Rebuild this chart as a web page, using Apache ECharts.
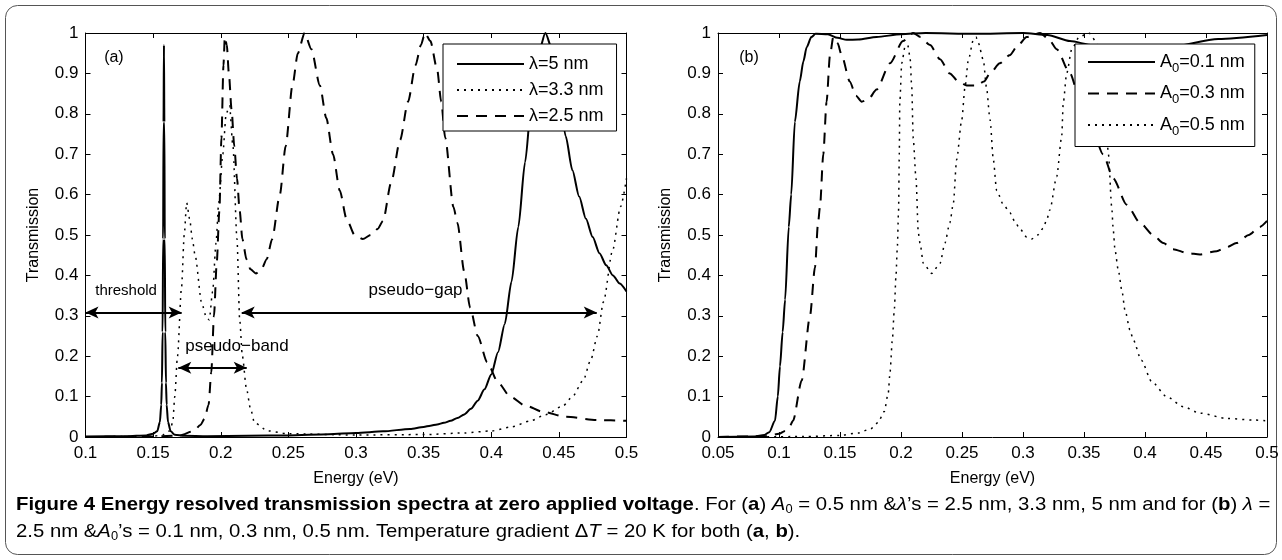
<!DOCTYPE html>
<html>
<head>
<meta charset="utf-8">
<script src="https://cdn.jsdelivr.net/npm/echarts@6/dist/echarts.min.js"></script>
<style>html,body{margin:0;padding:0;background:#fff}#c{width:1282px;height:560px}</style>
</head>
<body>
<div id="c"></div>
<script>
// ---------- tick labels ----------
const xTicksA = ['0.1','0.15','0.2','0.25','0.3','0.35','0.4','0.45','0.5'];
const xTicksB = ['0.05','0.1','0.15','0.2','0.25','0.3','0.35','0.4','0.45','0.5'];
const yTicks = ['0','0.1','0.2','0.3','0.4','0.5','0.6','0.7','0.8','0.9','1'];

// ---------- panel (a): lambda series ----------
const a5_E = [0.10,0.13,0.145,0.150,0.153,0.155,0.156,0.1565,0.157,0.1574,0.1577,0.158,0.1583,0.1586,0.159,0.1595,0.160,0.161,0.163,0.166,0.173,0.19,0.22,0.25,0.28,0.30,0.32,0.34,0.35,0.355,0.36,0.365,0.37,0.375,0.38,0.385,0.39,0.395,0.40,0.405,0.41,0.415,0.42,0.425,0.43,0.435,0.44,0.445,0.45,0.455,0.46,0.465,0.47,0.475,0.48,0.485,0.49,0.495,0.5];
const a5_T = [0.001,0.002,0.004,0.008,0.014,0.037,0.08,0.134,0.26,0.49,0.78,0.97,0.78,0.49,0.26,0.134,0.08,0.037,0.014,0.0055,0.003,0.002,0.003,0.004,0.007,0.01,0.014,0.02,0.025,0.028,0.031,0.035,0.04,0.047,0.056,0.07,0.09,0.118,0.155,0.21,0.28,0.385,0.52,0.68,0.84,0.95,1.0,0.96,0.86,0.745,0.66,0.595,0.54,0.495,0.455,0.425,0.40,0.38,0.36];

const a33_E = [0.10,0.15,0.158,0.162,0.1645,0.166,0.168,0.171,0.173,0.1748,0.177,0.179,0.181,0.186,0.1895,0.1915,0.194,0.1965,0.1985,0.2015,0.204,0.2065,0.209,0.212,0.214,0.216,0.219,0.222,0.225,0.235,0.25,0.30,0.35,0.38,0.40,0.415,0.429,0.44,0.453,0.46,0.468,0.4735,0.4785,0.483,0.4896,0.4956,0.5];
const a33_T = [0.0,0.002,0.006,0.015,0.035,0.10,0.20,0.37,0.50,0.58,0.54,0.49,0.45,0.33,0.295,0.29,0.36,0.48,0.58,0.70,0.80,0.82,0.72,0.49,0.29,0.20,0.12,0.07,0.035,0.015,0.008,0.005,0.006,0.01,0.015,0.025,0.04,0.055,0.077,0.10,0.14,0.19,0.25,0.335,0.46,0.57,0.64];

const a25_E = [0.10,0.15,0.17,0.18,0.185,0.188,0.191,0.193,0.195,0.197,0.199,0.2005,0.202,0.203,0.2045,0.206,0.208,0.21,0.212,0.214,0.216,0.219,0.222,0.226,0.23,0.234,0.238,0.2437,0.248,0.253,0.257,0.262,0.267,0.2733,0.278,0.283,0.288,0.293,0.299,0.305,0.311,0.316,0.320,0.326,0.3326,0.3385,0.344,0.348,0.351,0.355,0.36,0.363,0.366,0.372,0.375,0.38,0.3844,0.39,0.397,0.405,0.414,0.425,0.4385,0.455,0.4785,0.5];
const a25_T = [0.0,0.001,0.004,0.015,0.03,0.045,0.08,0.16,0.30,0.43,0.56,0.74,0.92,0.99,0.97,0.90,0.81,0.72,0.64,0.56,0.49,0.44,0.415,0.405,0.415,0.44,0.49,0.60,0.72,0.87,0.95,1.0,0.96,0.87,0.79,0.70,0.61,0.54,0.50,0.49,0.50,0.515,0.535,0.63,0.735,0.83,0.92,0.97,1.0,0.98,0.91,0.83,0.74,0.57,0.53,0.41,0.32,0.25,0.185,0.135,0.10,0.078,0.062,0.05,0.042,0.04];

// ---------- panel (b): A0 series ----------
const b1_E = [0.05,0.08,0.088,0.092,0.0967,0.099,0.1008,0.103,0.105,0.108,0.110,0.113,0.117,0.12,0.1227,0.1265,0.13,0.14,0.148,0.1555,0.165,0.18,0.2,0.22,0.26,0.30,0.32,0.3385,0.357,0.38,0.42,0.46,0.5];
const b1_T = [0.0,0.001,0.005,0.012,0.04,0.10,0.175,0.26,0.34,0.52,0.60,0.78,0.88,0.93,0.965,0.99,0.998,0.997,0.988,0.983,0.984,0.99,0.997,1.0,0.998,1.0,0.995,0.98,0.97,0.96,0.965,0.985,0.995];

const b3_E = [0.05,0.09,0.1,0.105,0.1085,0.1115,0.1186,0.1254,0.1295,0.132,0.1336,0.1363,0.139,0.1418,0.1445,0.148,0.1514,0.158,0.163,0.1678,0.173,0.18,0.191,0.2016,0.21,0.216,0.2238,0.232,0.24,0.247,0.2539,0.262,0.268,0.273,0.281,0.289,0.296,0.303,0.314,0.321,0.3276,0.3385,0.3467,0.356,0.3656,0.374,0.385,0.396,0.4066,0.415,0.423,0.435,0.445,0.4588,0.467,0.475,0.485,0.494,0.5];
const b3_T = [0.0,0.002,0.008,0.015,0.025,0.04,0.14,0.30,0.42,0.53,0.57,0.70,0.83,0.945,0.99,0.975,0.945,0.88,0.845,0.83,0.835,0.86,0.925,0.98,1.0,0.99,0.97,0.935,0.90,0.88,0.87,0.87,0.88,0.90,0.925,0.945,0.97,0.99,1.0,0.985,0.96,0.90,0.835,0.77,0.70,0.64,0.575,0.53,0.50,0.48,0.465,0.455,0.452,0.46,0.47,0.48,0.50,0.52,0.535];

const b5_E = [0.05,0.12,0.15,0.165,0.175,0.181,0.1863,0.1896,0.191,0.1929,0.1945,0.1959,0.197,0.198,0.1986,0.199,0.2006,0.2033,0.2055,0.2074,0.2088,0.21,0.2123,0.2142,0.2156,0.2183,0.2252,0.232,0.236,0.240,0.2429,0.2456,0.2498,0.2525,0.2552,0.2593,0.2615,0.2634,0.2675,0.27,0.273,0.2757,0.2784,0.284,0.2893,0.293,0.2975,0.303,0.307,0.312,0.3166,0.3194,0.322,0.3276,0.3317,0.333,0.3358,0.34,0.346,0.354,0.362,0.367,0.37,0.3727,0.374,0.3754,0.3781,0.381,0.3836,0.3877,0.3904,0.397,0.4055,0.4178,0.4314,0.445,0.467,0.4888,0.5];
const b5_T = [0.0,0.001,0.004,0.01,0.02,0.035,0.063,0.11,0.16,0.24,0.314,0.40,0.47,0.56,0.70,0.827,0.925,0.966,0.97,0.94,0.867,0.74,0.64,0.505,0.48,0.43,0.405,0.43,0.48,0.53,0.578,0.686,0.785,0.867,0.933,0.983,0.99,0.975,0.933,0.867,0.785,0.686,0.61,0.575,0.555,0.535,0.515,0.495,0.49,0.50,0.517,0.537,0.562,0.644,0.743,0.827,0.90,0.96,0.99,1.0,0.97,0.85,0.70,0.57,0.512,0.463,0.413,0.364,0.314,0.265,0.24,0.19,0.137,0.10,0.075,0.059,0.046,0.042,0.04];

// ---------- annotations (data units) ----------
const arrowThreshold = [0.1, 0.1711, 0.308];
const arrowGap = [0.2155, 0.478, 0.308];
const arrowBand = [0.1686, 0.2192, 0.1715];
const labelThreshold = [0.130, 0.361];
const labelGap = [0.344, 0.364];
const labelBand = [0.212, 0.225];
const labelA = [0.121, 0.94];
const labelB = [0.0754, 0.94];

const zip = (E, T) => E.map((e, i) => [e, T[i]]);
const FONT = 'Liberation Sans, Arial, Helvetica, sans-serif';
const DOT = [2, 5], DASH = [11, 8];

function xAx(grid, min, labels, top) {
  return {
    type: 'value', gridIndex: grid, min: min, max: 0.5, interval: 0.05,
    position: top ? 'top' : 'bottom',
    name: top ? '' : 'Energy (eV)', nameLocation: 'middle', nameGap: 34,
    nameTextStyle: {fontSize: 16, color: '#000', fontFamily: FONT},
    axisLine: {onZero: false, lineStyle: {color: '#000', width: 1}},
    axisTick: {inside: true, length: 5, lineStyle: {color: '#000'}},
    axisLabel: {show: !top, color: '#000', fontSize: 17, margin: 8, fontFamily: FONT,
      formatter: v => labels[Math.round((v - min) / 0.05)] || ''},
    splitLine: {show: false}
  };
}
function yAx(grid, right) {
  return {
    type: 'value', gridIndex: grid, min: 0, max: 1, interval: 0.1,
    position: right ? 'right' : 'left',
    name: right ? '' : 'Transmission', nameLocation: 'middle', nameGap: 44,
    nameTextStyle: {fontSize: 16, color: '#000', fontFamily: FONT},
    axisLine: {onZero: false, lineStyle: {color: '#000', width: 1}},
    axisTick: {inside: true, length: 5, lineStyle: {color: '#000'}},
    axisLabel: {show: !right, color: '#000', fontSize: 17, margin: 7, fontFamily: FONT,
      formatter: v => yTicks[Math.round(v * 10)] || ''},
    splitLine: {show: false}
  };
}
function textPoint(coord, text, size) {
  return {coord: coord, value: text, symbol: 'rect', symbolSize: 1,
    itemStyle: {color: 'rgba(0,0,0,0)'},
    label: {show: true, position: 'inside', formatter: text, color: '#000', fontSize: size, fontFamily: FONT}};
}
function arrow(a) { return [{coord: [a[0], a[2]]}, {coord: [a[1], a[2]]}]; }
function line(name, xi, data, type, width) {
  return {type: 'line', name: name, xAxisIndex: xi, yAxisIndex: xi, data: data,
    symbol: 'none', smooth: 0.25, smoothMonotone: 'x', silent: true,
    lineStyle: {color: '#000', width: width, type: type}, itemStyle: {color: '#000'}};
}

const sA5 = line('λ=5 nm', 0, zip(a5_E, a5_T), 'solid', 2);
sA5.markLine = {silent: true, symbol: ['arrow', 'arrow'], symbolSize: [9, 13], animation: false,
  lineStyle: {color: '#000', width: 2, type: 'solid'}, label: {show: false},
  data: [arrow(arrowThreshold), arrow(arrowGap), arrow(arrowBand)]};
sA5.markPoint = {silent: true, animation: false, data: [
  textPoint(labelThreshold, 'threshold', 15),
  textPoint(labelGap, 'pseudo−gap', 17),
  textPoint(labelBand, 'pseudo−band', 17),
  textPoint(labelA, '(a)', 16)]};
const sA33 = line('λ=3.3 nm', 0, zip(a33_E, a33_T), DOT, 1.5);
const sA25 = line('λ=2.5 nm', 0, zip(a25_E, a25_T), DASH, 2);

const sB1 = line('A0=0.1 nm', 2, zip(b1_E, b1_T), 'solid', 2);
sB1.markPoint = {silent: true, animation: false, data: [textPoint(labelB, '(b)', 16)]};
const sB3 = line('A0=0.3 nm', 2, zip(b3_E, b3_T), DASH, 2);
const sB5 = line('A0=0.5 nm', 2, zip(b5_E, b5_T), DOT, 1.5);

const caption1 = '{b|Figure 4 Energy resolved transmission spectra at zero applied voltage}{n|. For (}{b|a}{n|) }{i|A}{sub|0}{n| = 0.5 nm &}{i|λ}{n|’s = 2.5 nm, 3.3 nm, 5 nm and for (}{b|b}{n|) }{i|λ}{n| =}';
const caption2 = '{n|2.5 nm &}{i|A}{sub|0}{n|’s = 0.1 nm, 0.3 nm, 0.5 nm. Temperature gradient Δ}{i|T}{n| = 20 K for both (}{b|a}{n|, }{b|b}{n|).}';
const capFont = FONT;
const CAP = 19;
const capRich = {
  b: {fontFamily: capFont, fontWeight: 'bold', fontSize: CAP, color: '#231f20'},
  n: {fontFamily: capFont, fontSize: CAP, color: '#231f20'},
  i: {fontFamily: capFont, fontStyle: 'italic', fontSize: CAP, color: '#231f20'},
  sub: {fontFamily: capFont, fontSize: 12, color: '#231f20', padding: [10, 0, 0, 0]}
};

const legendBase = {
  orient: 'vertical', top: 44, itemWidth: 67, itemHeight: 14,
  backgroundColor: '#fff', borderColor: '#000', borderWidth: 1, borderRadius: 0,
  selectedMode: false, itemGap: 6, itemStyle: {opacity: 0}
};

const option = {
  animation: false,
  textStyle: {fontFamily: FONT},
  grid: [
    {left: 85.5, top: 33, width: 541, height: 404, containLabel: false},
    {left: 718, top: 33, width: 549, height: 404, containLabel: false}
  ],
  xAxis: [xAx(0, 0.1, xTicksA, false), xAx(0, 0.1, xTicksA, true), xAx(1, 0.05, xTicksB, false), xAx(1, 0.05, xTicksB, true)],
  yAxis: [yAx(0, false), yAx(0, true), yAx(1, false), yAx(1, true)],
  legend: [
    Object.assign({}, legendBase, {left: 443, padding: [10, 13, 5, 13],
      data: ['λ=5 nm', 'λ=3.3 nm', 'λ=2.5 nm'],
      textStyle: {fontSize: 18, color: '#000', fontFamily: FONT, lineHeight: 20}}),
    Object.assign({}, legendBase, {left: 1075, padding: [9, 10, 9, 12], itemGap: 10,
      data: ['A0=0.1 nm', 'A0=0.3 nm', 'A0=0.5 nm'],
      formatter: n => '{t|A}{s|0}{t|' + n.slice(2) + '}',
      textStyle: {fontSize: 18, color: '#000', fontFamily: FONT,
        rich: {t: {fontSize: 18, fontFamily: FONT, color: '#000'},
               s: {fontSize: 13, fontFamily: FONT, color: '#000', padding: [12, 0, 0, 0]}}}})
  ],
  series: [sA5, sA33, sA25, sB1, sB3, sB5],
  graphic: [
    {type: 'rect', silent: true, shape: {x: 5.5, y: 5.5, width: 1271, height: 549, r: 12},
      style: {fill: 'none', stroke: '#555', lineWidth: 1}},
    {type: 'text', silent: true, x: 16, y: 494, scaleX: 1.07, style: {text: caption1, rich: capRich}},
    {type: 'text', silent: true, x: 16, y: 521, scaleX: 1.07, style: {text: caption2, rich: capRich}}
  ]
};

const chart = echarts.init(document.getElementById('c'), null, {renderer: 'canvas'});
chart.setOption(option);
</script>
</body>
</html>
